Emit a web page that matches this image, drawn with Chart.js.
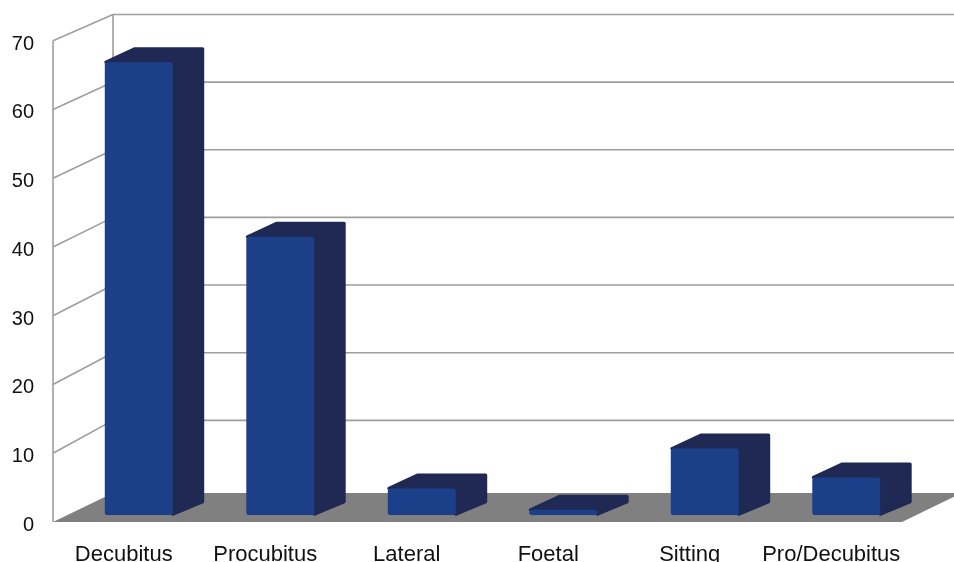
<!DOCTYPE html>
<html>
<head>
<meta charset="utf-8">
<script src="https://cdn.jsdelivr.net/npm/chart.js@4.4.1/dist/chart.umd.min.js"></script>
<style>
  html, body { margin: 0; padding: 0; background: #fff; }
</style>
</head>
<body>
<canvas id="chart" width="954" height="562"></canvas>
<script>
const categories = ['Decubitus', 'Procubitus', 'Lateral', 'Foetal', 'Sitting', 'Pro/Decubitus'];
const values = [65.9, 40.5, 3.9, 0.8, 9.7, 5.5];
const yTicks = [0, 10, 20, 30, 40, 50, 60, 70];

// fake 3D: floor depth offset, bars take the middle half of it
const DEPTH_X = 60, DEPTH_Y = 27;
const FRONT = 0.25, BACK = 0.75;

const box3d = {
    id: 'box3d',
    beforeDatasetsDraw(chart) {
        const {ctx, chartArea: a, scales: {x, y}} = chart;
        const sx = d => (d - FRONT) * DEPTH_X;
        const sy = d => -(d - FRONT) * DEPTH_Y;
        const y0 = y.getPixelForValue(0);
        const frontY = v => y.getPixelForValue(v) + sy(0);
        const backY = v => y0 + sy(1) - 7 + (y.getPixelForValue(v) - y0) * 0.984;
        const left0 = a.left + sx(0), left1 = a.left + sx(1);
        const right0 = a.right + sx(0), right1 = a.right + sx(1);
        const floorBack = y0 + sy(1) - 2;

        ctx.save();
        ctx.strokeStyle = '#9e9e9e';
        ctx.lineWidth = 1.6;
        ctx.beginPath();
        ctx.moveTo(left0, frontY(70));
        ctx.lineTo(left0, frontY(0));
        ctx.moveTo(left1, backY(70));
        ctx.lineTo(left1, floorBack);
        yTicks.forEach((v) => {
            if (v === 0) return;
            ctx.moveTo(left0, frontY(v));
            ctx.lineTo(left1, backY(v));
            ctx.moveTo(left1, backY(v));
            ctx.lineTo(right1, backY(v));
        });
        ctx.stroke();

        // floor
        ctx.fillStyle = '#808080';
        ctx.beginPath();
        ctx.moveTo(left0, frontY(0));
        ctx.lineTo(right0, frontY(0));
        ctx.lineTo(right1, floorBack);
        ctx.lineTo(left1, floorBack);
        ctx.closePath();
        ctx.fill();

        // top + side of every bar, the front face is drawn by chart.js
        const ox = (BACK - FRONT) * DEPTH_X, oy = -(BACK - FRONT) * DEPTH_Y;
        ctx.fillStyle = '#1f2954';
        ctx.strokeStyle = '#1f2954';
        ctx.lineWidth = 3;
        ctx.lineJoin = 'round';
        chart.getDatasetMeta(0).data.forEach((bar) => {
            const x0 = bar.x - bar.width / 2, x1 = bar.x + bar.width / 2;
            const top = bar.y, base = bar.base;
            ctx.beginPath();
            ctx.moveTo(x0 + 1, top);
            ctx.lineTo(x0 + ox, top + oy);
            ctx.lineTo(x1 + ox, top + oy);
            ctx.lineTo(x1 + ox, base + oy);
            ctx.lineTo(x1, base - 1);
            ctx.lineTo(x1, top);
            ctx.closePath();
            ctx.fill();
            ctx.stroke();
        });
        ctx.restore();
    }
};

new Chart(document.getElementById('chart'), {
    type: 'bar',
    data: {
        labels: categories,
        datasets: [{
            data: values,
            backgroundColor: '#1b4089',
            borderRadius: 3,
            borderSkipped: false,
            barPercentage: 0.48,
            categoryPercentage: 1
        }]
    },
    options: {
        responsive: false,
        animation: false,
        devicePixelRatio: 1,
        layout: {
            padding: {top: 34, right: 37, left: 0, bottom: 0}
        },
        plugins: {
            legend: {display: false},
            tooltip: {enabled: false}
        },
        scales: {
            x: {
                grid: {display: false, drawTicks: false},
                border: {display: false},
                ticks: {
                    color: '#111',
                    font: {family: 'Liberation Sans', size: 22},
                    labelOffset: -15,
                    padding: 26,
                    maxRotation: 0,
                    autoSkip: false
                },
                afterFit: (scale) => { scale.height = 46.75; }
            },
            y: {
                min: 0,
                max: 70,
                // invisible tick marks only to push the labels left
                grid: {display: false, drawTicks: true, tickLength: 34},
                border: {display: false},
                ticks: {
                    stepSize: 10,
                    color: '#111',
                    font: {family: 'Liberation Sans', size: 20},
                    labelOffset: 10,
                    padding: 0
                },
                afterFit: (scale) => { scale.width = 68; }
            }
        }
    },
    plugins: [box3d]
});
</script>
</body>
</html>
